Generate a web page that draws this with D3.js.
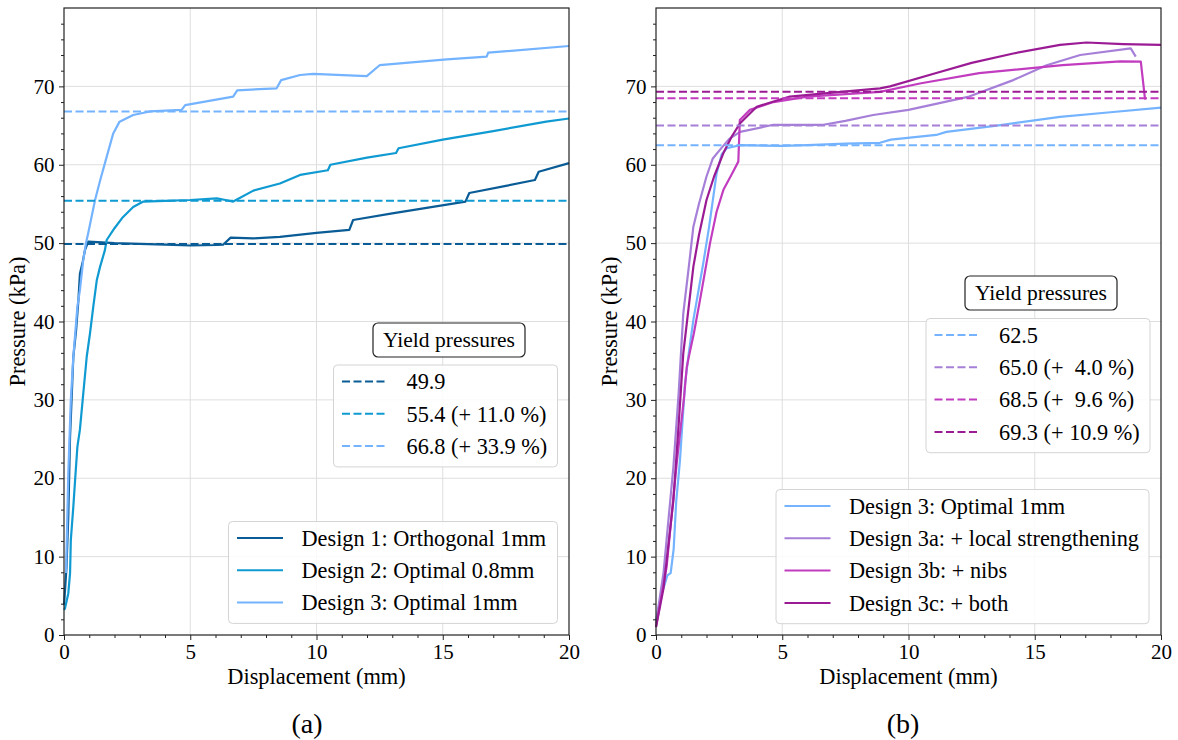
<!DOCTYPE html>
<html>
<head>
<meta charset="utf-8">
<script src="https://cdn.jsdelivr.net/npm/d3@7"></script>
<style>
  body { margin: 0; background: #fff; }
  svg text { font-family: "Liberation Serif", "DejaVu Serif", serif; fill: #000; white-space: pre; }
</style>
</head>
<body>
<svg width="1178" height="740"></svg>
<script>
// x ticks (mm) and y ticks (kPa)
const xTicks = [0, 5, 10, 15, 20],
      yTicks = [0, 10, 20, 30, 40, 50, 60, 70];

// panel (a): measured curves, [displacement, pressure]
const design1 = [[0,3.8],[0.04,5.7],[0.1,8.7],[0.17,15.1],[0.24,25.3],[0.3,30],[0.37,35.5],[0.48,38.9],[0.57,42.7],[0.63,46.1],[0.74,47.6],[0.83,49.1],[0.96,50.2],[1.5,50.1],[2,50.0],[3,49.9],[4,49.8],[5,49.7],[6.05,49.76],[6.3,49.8],[6.6,50.7],[7.5,50.6],[8.55,50.8],[10,51.3],[11.3,51.7],[11.45,52.95],[13,53.8],[15.9,55.3],[16.05,56.4],[17.5,57.3],[18.65,58.05],[18.8,59.1],[20,60.2]];
const design2 = [[0,3.2],[0.04,3.4],[0.17,5.3],[0.24,7.9],[0.27,12.1],[0.37,16.4],[0.44,19.8],[0.53,24],[0.63,26.2],[0.74,30],[0.9,35.5],[1.03,38.5],[1.16,41.9],[1.3,45.3],[1.43,47],[1.62,49.1],[1.69,50.4],[2.0,51.9],[2.3,53.2],[2.74,54.6],[3.14,55.3],[4,55.4],[5,55.5],[6.05,55.7],[6.4,55.5],[6.7,55.3],[7.5,56.7],[8.55,57.6],[9.35,58.7],[10.45,59.3],[10.55,60],[12,60.9],[13.15,61.5],[13.25,62.1],[15,63.2],[17,64.3],[19.1,65.5],[20,65.9]];
const design3 = [[0.08,7.9],[0.17,20.6],[0.27,30],[0.37,35.5],[0.53,41.9],[0.63,44],[0.76,47.8],[0.87,50],[0.96,51.3],[1.23,55.5],[1.43,58],[1.69,61],[1.95,64],[2.2,65.5],[2.74,66.35],[3.4,66.8],[4.66,67],[4.8,67.6],[6.7,68.7],[6.86,69.5],[8.42,69.75],[8.6,70.8],[9.35,71.45],[9.87,71.6],[11.99,71.3],[12.5,72.7],[15.16,73.45],[16.74,73.8],[16.8,74.3],[20,75.15]];

// panel (b)
const design3r = [[0,1.9],[0.22,5.3],[0.35,6.5],[0.45,7.6],[0.58,7.9],[0.7,11],[0.8,17],[0.95,22.3],[1.15,32.1],[1.3,36],[1.48,40.2],[1.87,47.4],[2.1,52],[2.4,58.9],[2.6,61.3],[2.8,62.1],[3.33,62.5],[5,62.4],[6,62.5],[7.5,62.7],[8.87,62.8],[9.3,63.2],[11.1,63.8],[11.5,64.2],[13.5,65],[16,66.1],[18,66.7],[20,67.3]];
const design3a = [[0,1.5],[0.3,8],[0.69,21.5],[0.9,31],[1.08,41],[1.3,47],[1.48,52.1],[1.7,55],[2.0,58.5],[2.25,60.8],[2.53,61.9],[2.9,63.3],[3.33,64.2],[4.65,65.1],[6.63,65.1],[7.5,65.6],[8.6,66.35],[10,67],[12.4,68.7],[14.15,70.8],[15.47,72.7],[16.8,74],[18.8,74.85],[19.0,73.8]];
const design3b = [[0,1],[0.42,8.7],[0.82,21.9],[1.1,30],[1.22,34.2],[1.3,35.5],[1.5,38.5],[1.74,42.7],[2.14,50],[2.4,54],[2.67,56.8],[3.0,58.8],[3.26,60.4],[3.32,65.7],[3.72,67],[4.65,68],[6,68.7],[8.87,69.3],[10.5,70.4],[12.8,71.7],[16.1,72.7],[18.4,73.2],[19.2,73.15],[19.37,68.3]];
const design3c = [[0,1],[0.3,6],[0.69,17.2],[0.9,27],[1.08,35.9],[1.3,42],[1.48,47],[1.7,51],[2.0,55.5],[2.3,58.5],[2.67,61.5],[3.0,63.6],[3.33,65.3],[3.99,67.4],[5.3,68.7],[7,69.2],[8.87,69.75],[9.27,70],[11.1,71.7],[12.5,73],[14.15,74.2],[16,75.3],[17.05,75.6],[18.5,75.4],[20,75.3]];

// yield pressures and labels
const yieldsA = [49.9, 55.4, 66.8],
      yieldLabelsA = ["49.9", "55.4 (+ 11.0 %)", "66.8 (+ 33.9 %)"];
const yieldsB = [62.5, 65.0, 68.5, 69.3],
      yieldLabelsB = ["62.5", "65.0 (+  4.0 %)", "68.5 (+  9.6 %)", "69.3 (+ 10.9 %)"];

const namesA = ["Design 1: Orthogonal 1mm", "Design 2: Optimal 0.8mm", "Design 3: Optimal 1mm"],
      namesB = ["Design 3: Optimal 1mm", "Design 3a: + local strengthening", "Design 3b: + nibs", "Design 3c: + both"];

const colorsA = ["#0a5c96", "#0f9ad2", "#74b3ff"],
      colorsB = ["#74b3ff", "#a67fd8", "#c23cc0", "#9b1b95"];

const serif = '"Liberation Serif", "DejaVu Serif", serif';
const svg = d3.select("svg");
const plotTop = 8, plotBottom = 635;

const drawPanel = (opt) => {
  let x = d3.scaleLinear().domain([0, 20]).range([opt.x0, opt.x1]),
      y = d3.scaleLinear().domain([0, 80]).range([plotBottom, plotTop]);
  let g = svg.append("g");

  // grid
  g.append("g").selectAll("line").data(xTicks.slice(1, -1)).enter().append("line")
    .attr("x1", d => x(d)).attr("x2", d => x(d)).attr("y1", plotTop).attr("y2", plotBottom)
    .attr("stroke", "#dedede").attr("stroke-width", 1);
  g.append("g").selectAll("line").data(yTicks.slice(1)).enter().append("line")
    .attr("x1", opt.x0).attr("x2", opt.x1).attr("y1", d => y(d)).attr("y2", d => y(d))
    .attr("stroke", "#dedede").attr("stroke-width", 1);

  let line = d3.line().x(d => x(d[0])).y(d => y(d[1]));

  opt.series.forEach((s, i) => {
    g.append("path").datum(s)
      .attr("d", line)
      .attr("fill", "none")
      .attr("stroke", opt.colors[i])
      .attr("stroke-width", 2.2)
      .attr("stroke-linejoin", "round");
  });

  opt.yields.forEach((v, i) => {
    g.append("line")
      .attr("x1", x(0)).attr("x2", x(20)).attr("y1", y(v)).attr("y2", y(v))
      .attr("stroke", opt.yieldColors[i]).attr("stroke-width", 2)
      .attr("stroke-dasharray", "8,3.5");
  });

  // spines
  g.append("rect")
    .attr("x", opt.x0).attr("y", plotTop).attr("width", opt.x1 - opt.x0).attr("height", plotBottom - plotTop)
    .attr("fill", "none").attr("stroke", "#222").attr("stroke-width", 1.2);

  // axes
  let xMinor = d3.range(0, 21, 1).filter(d => d % 5 != 0),
      yMinor = d3.range(0, 80, 2).filter(d => d % 10 != 0);

  let gx = g.append("g").attr("transform", `translate(0,${plotBottom})`);
  gx.append("g").call(d3.axisBottom(x).tickValues(xMinor).tickFormat("").tickSize(3));
  gx.append("g").call(d3.axisBottom(x).tickValues(xTicks).tickSize(5).tickPadding(4));
  let gy = g.append("g").attr("transform", `translate(${opt.x0},0)`);
  gy.append("g").call(d3.axisLeft(y).tickValues(yMinor).tickFormat("").tickSize(3));
  gy.append("g").call(d3.axisLeft(y).tickValues(yTicks).tickSize(5).tickPadding(4.5));

  g.selectAll(".domain").remove();
  g.selectAll(".tick line").attr("stroke", "#222");
  g.selectAll(".tick text").style("font-size", "21px");

  // labels
  let cx = (opt.x0 + opt.x1) / 2;
  g.append("text").attr("x", cx).attr("y", 684).attr("text-anchor", "middle")
    .style("font-size", "22.4px").text("Displacement (mm)");
  g.append("text").attr("transform", `translate(${opt.x0 - 39},${(plotTop + plotBottom) / 2}) rotate(-90)`)
    .attr("text-anchor", "middle").style("font-size", "22.4px").text("Pressure (kPa)");
  g.append("text").attr("x", opt.tagX).attr("y", 733).attr("text-anchor", "middle")
    .style("font-size", "28px").text(opt.tag);

  // yield legend title
  let t = opt.title;
  g.append("rect").attr("x", t.x).attr("y", t.y).attr("width", t.w).attr("height", 34)
    .attr("rx", 5).attr("fill", "#fff").attr("stroke", "#222").attr("stroke-width", 1.2);
  g.append("text").attr("x", t.x + t.w / 2).attr("y", t.y + 24).attr("text-anchor", "middle")
    .style("font-size", "21.5px").text("Yield pressures");

  const legend = (L, labels, colors, dash) => {
    let h = labels.length * 32.3 + 5;
    g.append("rect").attr("x", L.x).attr("y", L.y).attr("width", L.w).attr("height", h)
      .attr("rx", 4).attr("fill", "rgba(255,255,255,0.85)").attr("stroke", "#d4d4d4").attr("stroke-width", 1);
    let row = g.selectAll(null).data(labels).enter().append("g")
      .attr("transform", (d, i) => `translate(0,${L.y + 16.5 + i * 32.3})`);
    row.append("line").attr("x1", L.x + 8.5).attr("x2", L.x + 54.5)
      .attr("stroke", (d, i) => colors[i]).attr("stroke-width", 2)
      .attr("stroke-dasharray", dash ? "8,3.5" : null);
    row.append("text").attr("x", L.x + 73).attr("dy", "0.35em").style("font-size", "22.3px").text(d => d);
  };
  legend(opt.yLeg, opt.yieldLabels, opt.yieldColors, true);
  legend(opt.nLeg, opt.names, opt.colors, false);
};

drawPanel({
  x0: 64, x1: 569, tag: "(a)", tagX: 307,
  series: [design1, design2, design3], colors: colorsA, names: namesA,
  yields: yieldsA, yieldColors: colorsA, yieldLabels: yieldLabelsA,
  title: {x: 373, y: 323, w: 152},
  yLeg: {x: 333.5, y: 365, w: 224},
  nLeg: {x: 228.5, y: 521.5, w: 329}
});

drawPanel({
  x0: 656, x1: 1161, tag: "(b)", tagX: 903,
  series: [design3r, design3a, design3b, design3c], colors: colorsB, names: namesB,
  yields: yieldsB, yieldColors: colorsB, yieldLabels: yieldLabelsB,
  title: {x: 965, y: 276, w: 152},
  yLeg: {x: 926, y: 318.5, w: 224},
  nLeg: {x: 776, y: 489.5, w: 373}
});

svg.selectAll("text").style("font-family", serif);
</script>
</body>
</html>
